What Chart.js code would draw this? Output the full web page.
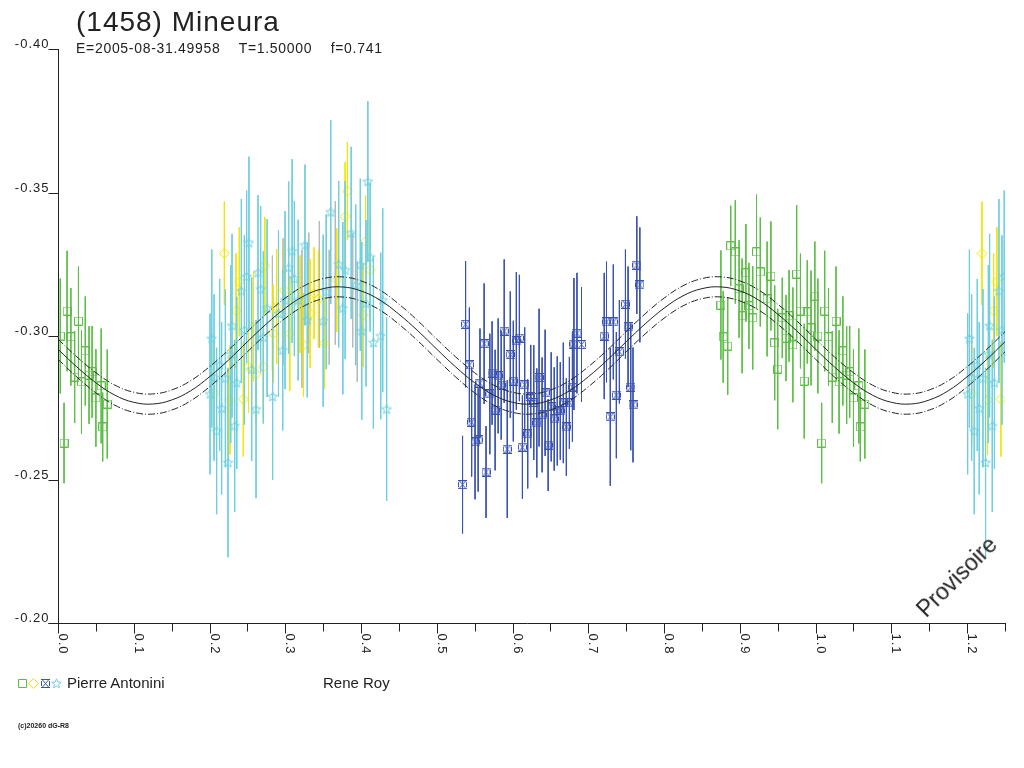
<!DOCTYPE html>
<html>
<head>
<meta charset="utf-8">
<title>(1458) Mineura</title>
<script src="https://cdn.jsdelivr.net/npm/chart.js@4.4.1/dist/chart.umd.min.js"></script>
<style>
  body { margin: 0; background: #fff; }
  #wrap { position: relative; width: 1024px; height: 768px; overflow: hidden;
          font-family: "Liberation Sans", Arial, sans-serif; color: #222; }
  #wrap canvas { position: absolute; left: 0; top: 0; }
  .txt { position: absolute; white-space: pre; line-height: 1; }
</style>
</head>
<body>
<div id="wrap">
  <canvas id="lightcurve" width="1024" height="768"></canvas>
  <div class="txt" style="left:76px; top:8px; font-size:28px; letter-spacing:1px;">(1458) Mineura</div>
  <div class="txt" style="left:76px; top:41px; font-size:14px; letter-spacing:0.7px;">E=2005-08-31.49958    T=1.50000    f=0.741</div>
  <div class="txt" style="left:67px; top:675px; font-size:15px;">Pierre Antonini</div>
  <div class="txt" style="left:323px; top:675px; font-size:15px;">Rene Roy</div>
  <div class="txt" style="left:18px; top:722px; font-size:7px; font-weight:bold;">(c)20260 dG-R8</div>
  <div class="txt" style="left:957px; top:577px; font-size:23px; transform: translate(-50%,-50%) rotate(-45deg);">Provisoire</div>
</div>
<script>
// axis ticks
const xLabelTicks = [0, 0.1, 0.2, 0.3, 0.4, 0.5, 0.6, 0.7, 0.8, 0.9, 1.0, 1.1, 1.2];
const xMinorTicks = [0.05, 0.15, 0.25, 0.35, 0.45, 0.55, 0.65, 0.75, 0.85, 0.95, 1.05, 1.15, 1.25];
const yTicks = [-0.40, -0.35, -0.30, -0.25, -0.20];

// fitted lightcurve, read every 0.025 in phase
const curvePhase = [0, 0.025, 0.05, 0.075, 0.1, 0.125, 0.15, 0.175, 0.2, 0.225,
  0.25, 0.275, 0.3, 0.325, 0.35, 0.375, 0.4, 0.425, 0.45, 0.475,
  0.5, 0.525, 0.55, 0.575, 0.6, 0.625, 0.65, 0.675, 0.7, 0.725,
  0.75, 0.775, 0.8, 0.825, 0.85, 0.875, 0.9, 0.925, 0.95, 0.975,
  1.0, 1.025, 1.05, 1.075, 1.1, 1.125, 1.15, 1.175, 1.2, 1.225, 1.25];
const curveMag = [-0.2954, -0.2892, -0.2837, -0.2794, -0.2769, -0.2763, -0.2777, -0.2809, -0.2858, -0.2916,
  -0.2980, -0.3042, -0.3097, -0.3140, -0.3165, -0.3171, -0.3157, -0.3125, -0.3076, -0.3018,
  -0.2954, -0.2892, -0.2837, -0.2794, -0.2769, -0.2763, -0.2777, -0.2809, -0.2858, -0.2916,
  -0.2980, -0.3042, -0.3097, -0.3140, -0.3165, -0.3171, -0.3157, -0.3125, -0.3076, -0.3018,
  -0.2954, -0.2892, -0.2837, -0.2794, -0.2769, -0.2763, -0.2777, -0.2809, -0.2858, -0.2916,
  -0.2980];
const curveSigma = 0.0035;

// observations: [phase, mag, error]
const greenObs = [
  [0.003, -0.3000, 0.020], [0.008, -0.2627, 0.014], [0.012, -0.3087, 0.021], [0.017, -0.2997, 0.017],
  [0.022, -0.2857, 0.016], [0.027, -0.3052, 0.019], [0.031, -0.2840, 0.018], [0.036, -0.2948, 0.019],
  [0.041, -0.2864, 0.017], [0.045, -0.2875, 0.016], [0.050, -0.2784, 0.017], [0.057, -0.2826, 0.020],
  [0.059, -0.2683, 0.012], [0.065, -0.2763, 0.019],
  [0.875, -0.3108, 0.019], [0.878, -0.2997, 0.016], [0.884, -0.2965, 0.017], [0.888, -0.3314, 0.014],
  [0.894, -0.3293, 0.018], [0.899, -0.3164, 0.017], [0.903, -0.3070, 0.020], [0.908, -0.3220, 0.017],
  [0.912, -0.3105, 0.015], [0.917, -0.3063, 0.018], [0.922, -0.3293, 0.020], [0.927, -0.3223, 0.019],
  [0.936, -0.3129, 0.020], [0.941, -0.3209, 0.019], [0.946, -0.2976, 0.020], [0.950, -0.2885, 0.021],
  [0.956, -0.3063, 0.014], [0.961, -0.2993, 0.015], [0.965, -0.3070, 0.016], [0.970, -0.2969, 0.020],
  [0.975, -0.3216, 0.024], [0.980, -0.3087, 0.020], [0.985, -0.2843, 0.020], [0.989, -0.3084, 0.018],
  [0.994, -0.3028, 0.020], [0.999, -0.3139, 0.019]
];
const yellowObs = [
  [0.2196, -0.3288, 0.018], [0.382, -0.3505, 0.017], [0.379, -0.3416, 0.019], [0.406, -0.3329, 0.016],
  [0.273, -0.3245, 0.017], [0.2393, -0.3189, 0.019], [0.412, -0.3230, 0.018], [0.235, -0.3088, 0.020],
  [0.338, -0.3149, 0.016], [0.368, -0.3195, 0.018], [0.3437, -0.3129, 0.017], [0.258, -0.3032, 0.019],
  [0.306, -0.3009, 0.020], [0.3516, -0.2975, 0.016], [0.271, -0.2893, 0.018], [0.2446, -0.2780, 0.020],
  [0.2614, -0.2867, 0.017], [0.227, -0.2777, 0.019], [0.206, -0.2800, 0.018], [0.324, -0.2969, 0.018],
  [0.3195, -0.3111, 0.017], [0.3327, -0.3079, 0.019], [0.2988, -0.3160, 0.018], [0.2886, -0.3102, 0.020],
  [0.403, -0.3073, 0.018], [0.284, -0.3009, 0.017], [0.2515, -0.2892, 0.016]
];
const blueObs = [
  [0.534, -0.2482, 0.017], [0.538, -0.3041, 0.022], [0.543, -0.2899, 0.020], [0.546, -0.2700, 0.019],
  [0.5505, -0.2631, 0.020], [0.5546, -0.2638, 0.018], [0.557, -0.2836, 0.019], [0.5625, -0.2973, 0.021],
  [0.565, -0.2526, 0.016], [0.570, -0.2798, 0.021], [0.573, -0.2871, 0.018], [0.577, -0.2742, 0.021],
  [0.581, -0.2861, 0.020], [0.585, -0.2829, 0.019], [0.589, -0.3017, 0.025], [0.593, -0.2606, 0.024],
  [0.597, -0.2935, 0.022], [0.601, -0.2843, 0.021], [0.605, -0.2983, 0.024], [0.609, -0.2993, 0.022],
  [0.613, -0.2613, 0.018], [0.616, -0.2830, 0.020], [0.620, -0.2659, 0.019], [0.624, -0.2789, 0.018],
  [0.628, -0.2768, 0.020], [0.632, -0.2697, 0.019], [0.635, -0.2855, 0.024], [0.639, -0.2725, 0.020],
  [0.643, -0.2802, 0.022], [0.647, -0.2620, 0.016], [0.651, -0.2753, 0.019], [0.655, -0.2711, 0.018],
  [0.659, -0.2739, 0.019], [0.663, -0.2739, 0.017], [0.667, -0.2767, 0.021], [0.671, -0.2683, 0.017],
  [0.675, -0.2767, 0.016], [0.679, -0.2822, 0.019], [0.681, -0.2972, 0.023], [0.685, -0.3010, 0.021],
  [0.691, -0.2970, 0.020], [0.721, -0.3000, 0.022], [0.724, -0.3049, 0.021], [0.729, -0.2718, 0.024],
  [0.733, -0.3049, 0.020], [0.737, -0.2794, 0.022], [0.741, -0.2945, 0.018], [0.749, -0.3111, 0.019],
  [0.7525, -0.3032, 0.021], [0.756, -0.2822, 0.022], [0.759, -0.2760, 0.020], [0.764, -0.3247, 0.017],
  [0.768, -0.3178, 0.020]
];
const cyanObs = [
  [0.409, -0.3538, 0.028], [0.360, -0.3432, 0.032], [0.252, -0.3325, 0.030], [0.326, -0.3317, 0.028],
  [0.387, -0.3359, 0.030], [0.309, -0.3296, 0.032], [0.412, -0.3275, 0.026], [0.249, -0.3207, 0.030],
  [0.264, -0.3221, 0.027], [0.242, -0.3157, 0.032], [0.2675, -0.3163, 0.029], [0.3045, -0.3238, 0.030],
  [0.312, -0.3200, 0.027], [0.3705, -0.3250, 0.029], [0.379, -0.3230, 0.031], [0.393, -0.3178, 0.028],
  [0.399, -0.3248, 0.030], [0.2997, -0.3125, 0.031], [0.317, -0.3125, 0.028], [0.354, -0.3154, 0.027],
  [0.376, -0.3097, 0.030], [0.4066, -0.3114, 0.029], [0.4286, -0.3125, 0.032], [0.276, -0.3097, 0.031],
  [0.291, -0.3079, 0.029], [0.2297, -0.3036, 0.032], [0.246, -0.3021, 0.033], [0.329, -0.3056, 0.027],
  [0.350, -0.3053, 0.030], [0.401, -0.3018, 0.031], [0.4163, -0.2977, 0.030], [0.426, -0.3000, 0.029],
  [0.203, -0.2991, 0.031], [0.271, -0.2995, 0.030], [0.2966, -0.2951, 0.028], [0.228, -0.2937, 0.031],
  [0.2134, -0.2899, 0.030], [0.2557, -0.2884, 0.032], [0.236, -0.2837, 0.030], [0.206, -0.2855, 0.029],
  [0.2209, -0.2853, 0.031], [0.2007, -0.2798, 0.028], [0.216, -0.2748, 0.030], [0.2833, -0.2789, 0.029],
  [0.2614, -0.2745, 0.031], [0.4338, -0.2745, 0.032], [0.2094, -0.2669, 0.029], [0.2332, -0.2687, 0.030],
  [0.2244, -0.2559, 0.033]
];
const greyObs = [
  [0.283, -0.3080, 0.020], [0.297, -0.3120, 0.022], [0.322, -0.3060, 0.024], [0.331, -0.3150, 0.021],
  [0.345, -0.3180, 0.022], [0.358, -0.3100, 0.020], [0.366, -0.3220, 0.025], [0.389, -0.3160, 0.020],
  [0.395, -0.3050, 0.021]
];

const colGreen = '#5cbf45';
const colYellow = '#f2e600';
const colBlue = '#3a52b0';
const colCyan = '#6fcfe0';
const colGrey = '#b8b8b8';
const colInk = '#222222';

// small marker images
function makeSymbol(size, color, draw) {
  const c = document.createElement('canvas');
  c.width = size; c.height = size;
  const g = c.getContext('2d');
  g.strokeStyle = color;
  g.lineWidth = 1;
  g.beginPath();
  draw(g, size);
  g.stroke();
  return c;
}
const symSquare = makeSymbol(9, colGreen, (g) => { g.rect(0.5, 0.5, 8, 8); });
const symDiamond = makeSymbol(11, colYellow, (g) => {
  g.moveTo(5.5, 0.5); g.lineTo(10.5, 5.5); g.lineTo(5.5, 10.5); g.lineTo(0.5, 5.5); g.closePath();
});
const symBox = makeSymbol(9, colBlue, (g) => {
  g.moveTo(0, 0.5); g.lineTo(9, 0.5);
  g.moveTo(0, 8.5); g.lineTo(9, 8.5);
  g.moveTo(1.5, 1); g.lineTo(7.5, 8);
  g.moveTo(7.5, 1); g.lineTo(1.5, 8);
  g.moveTo(0.5, 2); g.lineTo(0.5, 7);
  g.moveTo(8.5, 2); g.lineTo(8.5, 7);
});
const symStar = makeSymbol(11, colCyan, (g) => {
  for (let i = 0; i < 10; i++) {
    const r = i % 2 === 0 ? 5 : 2.2;
    const a = -Math.PI / 2 + i * Math.PI / 5;
    const px = 5.5 + r * Math.cos(a), py = 5.8 + r * Math.sin(a);
    if (i === 0) g.moveTo(px, py); else g.lineTo(px, py);
  }
  g.closePath();
});

// phases below 0.25 are shown again after 1.0
function wrap(obs) {
  const out = obs.slice();
  obs.forEach(o => { if (o[0] + 1 <= 1.25) out.push([o[0] + 1, o[1], o[2]]); });
  return out;
}
function points(obs) {
  return wrap(obs).map(o => ({ x: o[0], y: o[1] }));
}
function bars(obs) {
  const out = [];
  wrap(obs).forEach(o => {
    out.push({ x: o[0], y: o[1] - o[2] }, { x: o[0], y: o[1] + o[2] }, { x: o[0], y: null });
  });
  return out;
}

function barSet(obs, color, order) {
  return { type: 'line', data: bars(obs), showLine: true, spanGaps: false, borderColor: color,
    borderWidth: 1, pointRadius: 0, tension: 0, order: order };
}
function pointSet(obs, symbol, order) {
  return { type: 'scatter', data: points(obs), pointStyle: symbol, pointRadius: 5, order: order };
}
function curveSet(offset, dash) {
  return { type: 'line', data: curvePhase.map((p, i) => ({ x: p, y: curveMag[i] + offset })),
    showLine: true, borderColor: colInk, borderWidth: 1, borderDash: dash, pointRadius: 0,
    tension: 0.4, order: 0 };
}

const axesPlugin = {
  id: 'axes',
  afterDraw(chart) {
    const { ctx, chartArea: a, scales: { x, y } } = chart;
    ctx.save();
    ctx.strokeStyle = colInk;
    ctx.fillStyle = colInk;
    ctx.lineWidth = 1;
    const left = Math.round(a.left) + 0.5;
    const bottom = Math.round(a.bottom) + 0.5;
    ctx.beginPath();
    ctx.moveTo(left, a.top); ctx.lineTo(left, bottom);
    ctx.moveTo(left - 10, bottom); ctx.lineTo(a.right + 1, bottom);
    yTicks.forEach(v => {
      const py = Math.round(y.getPixelForValue(v)) + 0.5;
      ctx.moveTo(left - 10, py); ctx.lineTo(left, py);
    });
    xLabelTicks.forEach(v => {
      const px = Math.round(x.getPixelForValue(v)) + 0.5;
      ctx.moveTo(px, bottom); ctx.lineTo(px, bottom + 10);
    });
    xMinorTicks.forEach(v => {
      const px = Math.round(x.getPixelForValue(v)) + 0.5;
      ctx.moveTo(px, bottom); ctx.lineTo(px, bottom + 8);
    });
    ctx.stroke();

    ctx.font = '13px "Liberation Sans", Arial, sans-serif';
    ctx.letterSpacing = '1px';
    ctx.textAlign = 'right';
    ctx.textBaseline = 'alphabetic';
    yTicks.forEach(v => {
      const py = Math.round(y.getPixelForValue(v));
      ctx.fillText(v.toFixed(2), left - 9, py - 1);
    });
    ctx.textAlign = 'left';
    xLabelTicks.forEach(v => {
      const px = Math.round(x.getPixelForValue(v));
      ctx.save();
      ctx.translate(px + 1, bottom + 10);
      ctx.rotate(Math.PI / 2);
      ctx.fillText(v.toFixed(1), 0, 0);
      ctx.restore();
    });

    // legend markers
    [[symSquare, 22], [symDiamond, 33.5], [symBox, 45], [symStar, 56.5]].forEach(([s, cx]) => {
      ctx.drawImage(s, Math.round(cx - s.width / 2), Math.round(683 - s.height / 2));
    });
    ctx.restore();
  }
};

new Chart(document.getElementById('lightcurve'), {
  type: 'scatter',
  data: {
    datasets: [
      curveSet(0, []),
      curveSet(-curveSigma, [7, 2, 1, 2]),
      curveSet(curveSigma, [7, 2, 1, 2]),
      pointSet(cyanObs, symStar, 1),
      barSet(cyanObs, colCyan, 2),
      pointSet(yellowObs, symDiamond, 3),
      barSet(yellowObs, colYellow, 4),
      barSet(greyObs, colGrey, 5),
      pointSet(greenObs, symSquare, 1),
      barSet(greenObs, colGreen, 2),
      pointSet(blueObs, symBox, 1),
      barSet(blueObs, colBlue, 2)
    ]
  },
  options: {
    responsive: false,
    animation: false,
    devicePixelRatio: 1,
    events: [],
    layout: { padding: { left: 58, top: 49, right: 19, bottom: 145 } },
    plugins: { legend: { display: false }, tooltip: { enabled: false }, title: { display: false } },
    scales: {
      x: { type: 'linear', min: 0, max: 1.25, display: false },
      y: { type: 'linear', min: -0.40, max: -0.20, reverse: true, display: false }
    }
  },
  plugins: [axesPlugin]
});
</script>
</body>
</html>
